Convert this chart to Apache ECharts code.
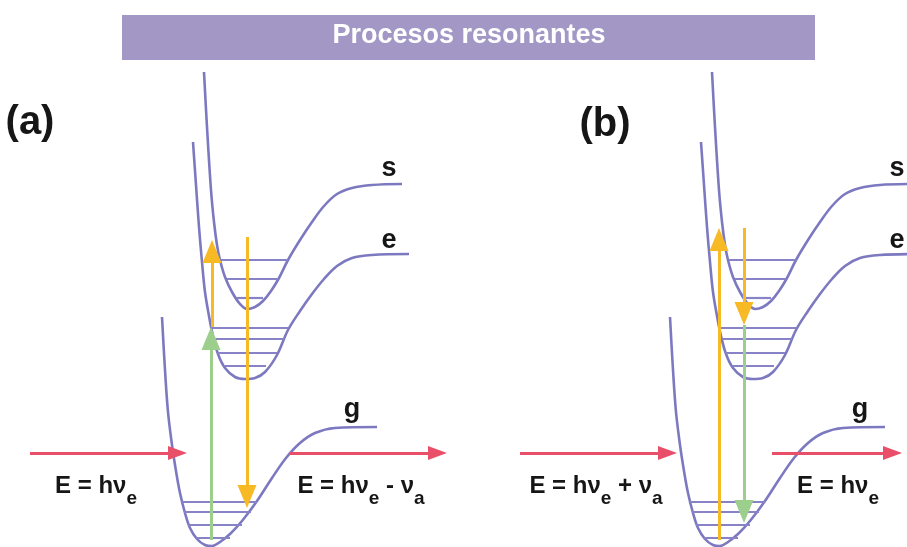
<!DOCTYPE html>
<html><head><meta charset="utf-8">
<script src="https://cdn.jsdelivr.net/npm/echarts@6/dist/echarts.min.js"></script>
<style>html,body{margin:0;padding:0;background:#fff}#c{width:907px;height:547px}</style>
</head><body><div id="c"></div>
<script>
// Potential curves (panel-local coordinates, same shape in both panels)
const sCurve = [[204,72],[207,127],[211,190],[214,222],[217,245],[220,260],[225,277],[232,292],[240,304],[247,309],[255,307],[263,301],[271,291],[279,278],[288,260],[300,240],[312,222],[324,206],[337,194],[352,188],[372,185],[402,184]];
const eCurve = [[193,142],[196,185],[199,227],[202,262],[205,292],[209,316],[213,336],[218,354],[225,368],[235,377],[245,379],[255,378],[265,372],[277,355],[288,330],[300,311],[312,294],[324,279],[337,266],[352,258],[372,255],[409,254]];
const gCurve = [[162,317],[165,370],[168,412],[172,445],[176,471],[180,493],[185,513],[190,528],[197,539],[205,545],[212,546],[220,542],[230,534],[242,521],[257,501],[272,478],[286,458],[300,443],[315,433],[335,428],[377,427]];
// Vibrational levels [xLeft, xRight, y]
const sLevels = [[221,288,260],[227,278,279],[237,263,298]];
const eLevels = [[212,288,328],[214,284,339],[217,277,353],[225,266,366]];
const gLevels = [[182,257,502],[184,251,512],[188,242,525],[196,230,538]];
// State labels [text, x, y]
const stateLabels = [['s',389,169],['e',389,241],['g',352,410]];
const panelTags = ['(a)','(b)'];
const panelTagPos = [[30,123],[97,125]];
// Arrows [x1, y1, xTip, yTip]
const yellowA = [[212,327,212,240],[247,237,247,508]];
const greenA  = [[211,540,211,327]];
const redA    = [[30,453,187,453],[290,453,447,453]];
const yellowB = [[211,540,211,228],[236,228,236,325]];
const greenB  = [[236,325,236,523]];
const redB    = [[12,453,169,453],[264,453,394,453]];
// Equations [x, y, main, sub, main2, sub2]
const eqA = [[96,491,'E = hν','e','',''],[361,491,'E = hν','e',' - ν','a']];
const eqB = [[88,491,'E = hν','e',' + ν','a'],[330,491,'E = hν','e','','']];
const titleText = 'Procesos resonantes';

const PURPLE = '#7d79c1', LEVEL = '#8783c6', YELLOW = '#f7b924', GREEN = '#9dcf8c', RED = '#ea4f69', BAR = '#a398c5', INK = '#161616';
const FONT = '"Liberation Sans", Arial, sans-serif';

function arrowSeries(ax, arr, color, headW, headH, width) {
  const shafts = [], heads = [];
  arr.forEach(a => {
    const dx = a[2]-a[0], dy = a[3]-a[1], L = Math.hypot(dx, dy), ux = dx/L, uy = dy/L;
    shafts.push({coords: [[a[0],a[1]],[a[2]-ux*headH*0.6, a[3]-uy*headH*0.6]]});
    const rot = Math.atan2(-dy, dx)*180/Math.PI - 90;
    heads.push({value: [a[2]-ux*headH/2, a[3]-uy*headH/2], symbolRotate: rot});
  });
  return [
    Object.assign({type:'lines', coordinateSystem:'cartesian2d', data: shafts, lineStyle:{color, width, opacity:1}, z:5, silent:true}, ax),
    Object.assign({type:'scatter', data: heads, symbol:'triangle', symbolSize:[headW, headH], itemStyle:{color, opacity:1}, z:6, silent:true}, ax)
  ];
}

function panel(k, yellow, green, red, eqs) {
  const ax = {xAxisIndex:k, yAxisIndex:k};
  const out = [];
  [sCurve, eCurve, gCurve].forEach(c => out.push(Object.assign({type:'line', data:c, smooth:0.35, symbol:'none', lineStyle:{color:PURPLE, width:2.6}, z:2, silent:true}, ax)));
  out.push(Object.assign({type:'lines', coordinateSystem:'cartesian2d',
    data: [...sLevels, ...eLevels, ...gLevels].map(l => ({coords:[[l[0],l[2]],[l[1],l[2]]]})),
    lineStyle:{color:LEVEL, width:2.2, opacity:1}, z:3, silent:true}, ax));
  out.push(...arrowSeries(ax, green, GREEN, 19, 23, 3));
  out.push(...arrowSeries(ax, yellow, YELLOW, 19, 23, 3));
  out.push(...arrowSeries(ax, red, RED, 14, 19, 3));
  const rich = {
    m:{fontSize:24, fontWeight:'bold', fontFamily:FONT, color:INK, lineHeight:24, verticalAlign:'top', opacity:1},
    s:{fontSize:19, fontWeight:'bold', fontFamily:FONT, color:INK, lineHeight:34, verticalAlign:'bottom', opacity:1}
  };
  const texts = [];
  stateLabels.forEach(s => texts.push({value:[s[1],s[2]], label:{formatter:s[0], fontSize:27, fontWeight:'bold', fontFamily:FONT, color:INK}}));
  texts.push({value:panelTagPos[k], label:{formatter:panelTags[k], fontSize:40, fontWeight:'bold', fontFamily:FONT, color:INK}});
  eqs.forEach(e => {
    let f = '{m|' + e[2] + '}{s|' + e[3] + '}';
    if (e[4]) f += '{m|' + e[4] + '}{s|' + e[5] + '}';
    texts.push({value:[e[0], e[1]], label:{formatter:f, rich, color:INK}});
  });
  out.push(Object.assign({type:'scatter', data:texts, symbolSize:1, itemStyle:{color:'rgba(0,0,0,0)', opacity:1},
    label:{show:true, position:'inside', opacity:1, textBorderWidth:0, color:INK}, z:8, silent:true}, ax));
  return out;
}

const chart = echarts.init(document.getElementById('c'), null, {renderer:'canvas'});
chart.setOption({
  animation:false,
  backgroundColor:'#ffffff',
  grid:[{left:0, top:0, width:907, height:547}, {left:508, top:0, width:399, height:547}],
  xAxis:[{type:'value', min:0, max:907, show:false, gridIndex:0}, {type:'value', min:0, max:399, show:false, gridIndex:1}],
  yAxis:[{type:'value', min:0, max:547, inverse:true, show:false, gridIndex:0}, {type:'value', min:0, max:547, inverse:true, show:false, gridIndex:1}],
  graphic:[
    {type:'rect', shape:{x:122, y:15, width:693, height:45}, style:{fill:BAR}, z:10},
    {type:'text', style:{text:titleText, x:469, y:36, align:'center', verticalAlign:'middle', fill:'#ffffff', font:'bold 27px ' + FONT}, z:11}
  ],
  series:[...panel(0, yellowA, greenA, redA, eqA), ...panel(1, yellowB, greenB, redB, eqB)]
});
</script></body></html>
